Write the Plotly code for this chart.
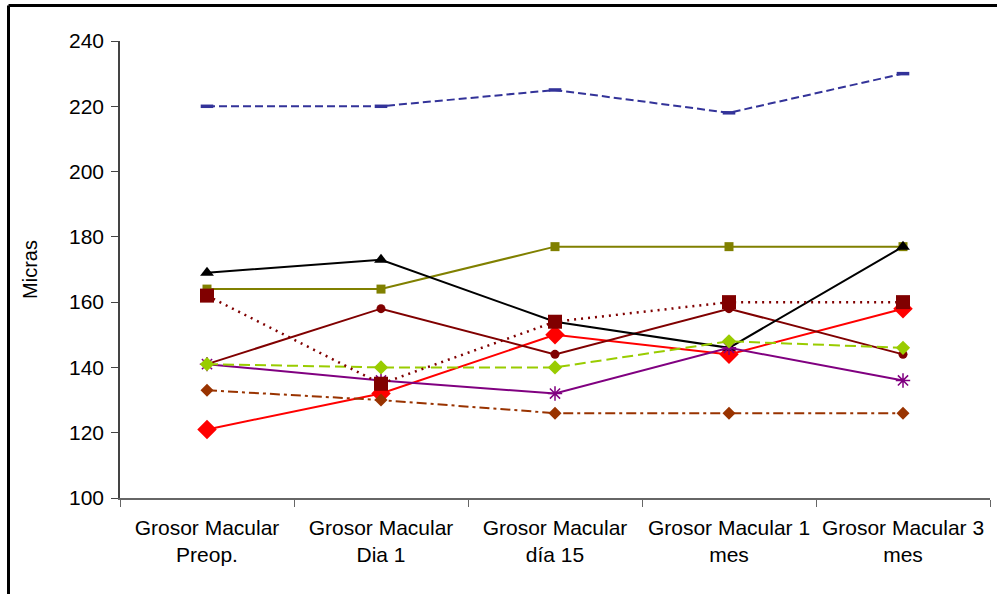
import plotly.graph_objects as go

# Macular thickness (microns) per patient across follow-up visits
visitas = ["Grosor Macular<br>Preop.", "Grosor Macular<br>Dia 1", "Grosor Macular<br>día 15",
           "Grosor Macular 1<br>mes", "Grosor Macular 3<br>mes"]

paciente_1 = [220, 220, 225, 218, 230]
paciente_2 = [164, 164, 177, 177, 177]
paciente_3 = [121, 132, 150, 144, 158]
paciente_4 = [141, 158, 144, 158, 144]
paciente_5 = [133, 130, 126, 126, 126]
paciente_6 = [169, 173, 154, 146, 177]
paciente_7 = [141, 136, 132, 146, 136]
paciente_8 = [141, 140, 140, 148, 146]
paciente_9 = [162, 135, 154, 160, 160]

series = [
    # values, color, dash, symbol, size, marker line width
    (paciente_1, "#333399", "8px,4px", "line-ew", 9, 3.5),
    (paciente_2, "#808000", "solid", "square", 9, 0),
    (paciente_3, "#FF0000", "solid", "diamond", 15, 0),
    (paciente_4, "#800000", "solid", "circle", 9, 0),
    (paciente_5, "#993300", "10px,4px,3px,4px", "diamond", 10, 0),
    (paciente_6, "#000000", "solid", "triangle-up", 12, 0),
    (paciente_7, "#800080", "solid", "asterisk-open", 12, 1.5),
    (paciente_8, "#99CC00", "11px,5px", "diamond", 11, 0),
    (paciente_9, "#800000", "2px,5px", "square", 14, 0),
]

fig = go.Figure()
for i, (vals, color, dash, symbol, size, mlw) in enumerate(series):
    fig.add_trace(go.Scatter(
        x=visitas, y=vals, mode="lines+markers", name=f"Paciente {i + 1}",
        line=dict(color=color, width=2 if dash != "2px,5px" else 2.5, dash=dash),
        marker=dict(symbol=symbol, size=size, color=color,
                    line=dict(color=color, width=mlw)),
        showlegend=False,
    ))

font_family = "Liberation Sans, Arial, sans-serif"

fig.update_layout(
    width=997, height=594,
    margin=dict(l=120, r=7, t=41, b=96),
    paper_bgcolor="white", plot_bgcolor="white",
    font=dict(family=font_family, size=21, color="black"),
    xaxis=dict(
        type="category", showgrid=False, showline=True, linecolor="#666666", linewidth=1.5,
        ticks="outside", tickson="boundaries", ticklen=7, tickcolor="#666666",
        tickfont=dict(size=21), range=[-0.5, 4.5], ticklabelstandoff=10,
    ),
    yaxis=dict(
        range=[100, 240], dtick=20, showgrid=False, zeroline=False,
        showline=True, linecolor="#444444", linewidth=1.5,
        ticks="outside", ticklen=7, tickcolor="#444444",
        tickfont=dict(size=21), ticklabelstandoff=3,
        title=dict(text="Micras", font=dict(size=20), standoff=26),
    ),
    shapes=[
        # outer chart frame (left and top edges)
        dict(type="line", xref="paper", yref="paper",
             x0=(8.5 - 120) / 870, x1=(8.5 - 120) / 870,
             y0=(498 - 5.5) / 457, y1=(498 - 620) / 457,
             line=dict(color="black", width=3)),
        dict(type="line", xref="paper", yref="paper",
             x0=(8.5 - 120) / 870, x1=(1010 - 120) / 870,
             y0=(498 - 5.5) / 457, y1=(498 - 5.5) / 457,
             line=dict(color="black", width=3)),
    ],
)

fig.write_html("out.html")
